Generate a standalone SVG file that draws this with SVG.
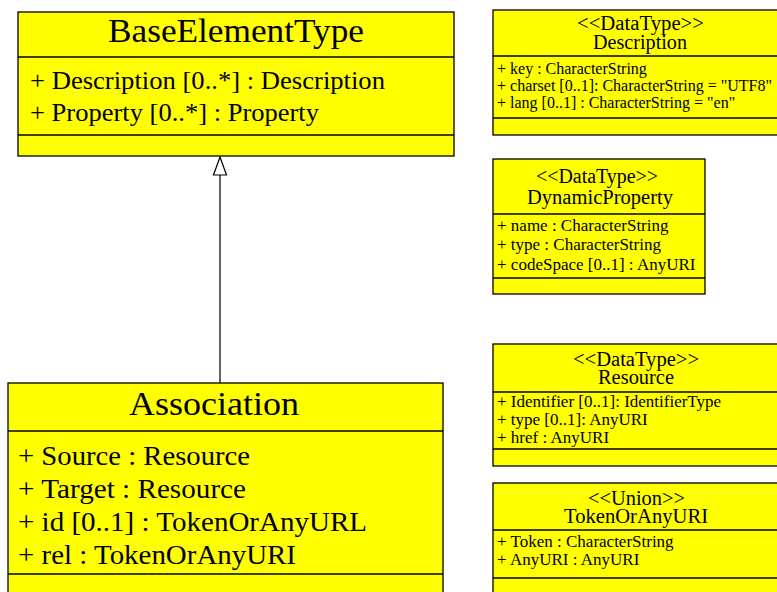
<svg xmlns="http://www.w3.org/2000/svg" width="777" height="592" viewBox="0 0 777 592">
<style>
.box{fill:#ffff00;stroke:#000;stroke-width:1.3}
.div{stroke:#000;stroke-width:1.3}
text{font-family:"Liberation Serif","Times New Roman",serif;fill:#000}
.bt{font-size:34px;text-anchor:middle}
.ba{font-size:25px}
.ba2{font-size:26.5px}
.st{font-size:20px;text-anchor:middle}
.sa{font-size:16px}
.sa2{font-size:17px}
.conn{stroke:#000;stroke-width:1.2;fill:none}
</style>
<rect width="777" height="592" fill="#fff"/>
<g id="connectors">
<line class="conn" x1="220" y1="175" x2="220" y2="383"/>
<polygon points="220,157 213.5,175 226.5,175" fill="#fff" stroke="#000" stroke-width="1.2"/>
</g>
<g id="BaseElementType">
<rect class="box" x="18" y="12" width="436" height="144"/>
<line class="div" x1="18" y1="57" x2="454" y2="57"/>
<line class="div" x1="18" y1="135" x2="454" y2="135"/>
<text class="bt" x="236" y="42" textLength="256" lengthAdjust="spacingAndGlyphs">BaseElementType</text>
<text class="ba" x="30" y="89" textLength="355" lengthAdjust="spacingAndGlyphs">+ Description [0..*] : Description</text>
<text class="ba" x="30" y="121" textLength="289" lengthAdjust="spacingAndGlyphs">+ Property [0..*] : Property</text>
</g>
<g id="Association">
<rect class="box" x="8" y="383" width="435" height="230"/>
<line class="div" x1="8" y1="431" x2="443" y2="431"/>
<line class="div" x1="8" y1="574" x2="443" y2="574"/>
<text class="bt" x="214" y="415" textLength="170" lengthAdjust="spacingAndGlyphs">Association</text>
<text class="ba2" x="18" y="465" textLength="232" lengthAdjust="spacingAndGlyphs">+ Source : Resource</text>
<text class="ba2" x="18" y="498" textLength="228" lengthAdjust="spacingAndGlyphs">+ Target : Resource</text>
<text class="ba2" x="18" y="531" textLength="349" lengthAdjust="spacingAndGlyphs">+ id [0..1] : TokenOrAnyURL</text>
<text class="ba2" x="18" y="564" textLength="278" lengthAdjust="spacingAndGlyphs">+ rel : TokenOrAnyURI</text>
</g>
<g id="Description">
<rect class="box" x="493" y="10" width="300" height="125"/>
<line class="div" x1="493" y1="56" x2="793" y2="56"/>
<line class="div" x1="493" y1="118" x2="793" y2="118"/>
<text class="st" x="640.5" y="30" textLength="127" lengthAdjust="spacingAndGlyphs">&lt;&lt;DataType&gt;&gt;</text>
<text class="st" x="640" y="49" textLength="94" lengthAdjust="spacingAndGlyphs">Description</text>
<text class="sa" x="497" y="74">+ key : CharacterString</text>
<text class="sa" x="497" y="91">+ charset [0..1]: CharacterString = "UTF8"</text>
<text class="sa" x="497" y="108">+ lang [0..1] : CharacterString = "en"</text>
</g>
<g id="DynamicProperty">
<rect class="box" x="493" y="159" width="212" height="135"/>
<line class="div" x1="493" y1="214" x2="705" y2="214"/>
<line class="div" x1="493" y1="278" x2="705" y2="278"/>
<text class="st" x="597" y="183" textLength="122" lengthAdjust="spacingAndGlyphs">&lt;&lt;DataType&gt;&gt;</text>
<text class="st" x="600" y="204" textLength="146" lengthAdjust="spacingAndGlyphs">DynamicProperty</text>
<text class="sa2" x="497" y="231">+ name : CharacterString</text>
<text class="sa2" x="497" y="250">+ type : CharacterString</text>
<text class="sa2" x="497" y="270">+ codeSpace [0..1] : AnyURI</text>
</g>
<g id="Resource">
<rect class="box" x="493" y="344" width="300" height="122"/>
<line class="div" x1="493" y1="392" x2="793" y2="392"/>
<line class="div" x1="493" y1="449" x2="793" y2="449"/>
<text class="st" x="636" y="366" textLength="126" lengthAdjust="spacingAndGlyphs">&lt;&lt;DataType&gt;&gt;</text>
<text class="st" x="636" y="384" textLength="76" lengthAdjust="spacingAndGlyphs">Resource</text>
<text class="sa2" x="497" y="407">+ Identifier [0..1]: IdentifierType</text>
<text class="sa2" x="497" y="425">+ type [0..1]: AnyURI</text>
<text class="sa2" x="497" y="443">+ href : AnyURI</text>
</g>
<g id="TokenOrAnyURI">
<rect class="box" x="493" y="483" width="300" height="130"/>
<line class="div" x1="493" y1="530" x2="793" y2="530"/>
<line class="div" x1="493" y1="578" x2="793" y2="578"/>
<text class="st" x="636.5" y="505" textLength="97" lengthAdjust="spacingAndGlyphs">&lt;&lt;Union&gt;&gt;</text>
<text class="st" x="636" y="523" textLength="144" lengthAdjust="spacingAndGlyphs">TokenOrAnyURI</text>
<text class="sa2" x="497" y="547">+ Token : CharacterString</text>
<text class="sa2" x="497" y="565">+ AnyURI : AnyURI</text>
</g>
</svg>
